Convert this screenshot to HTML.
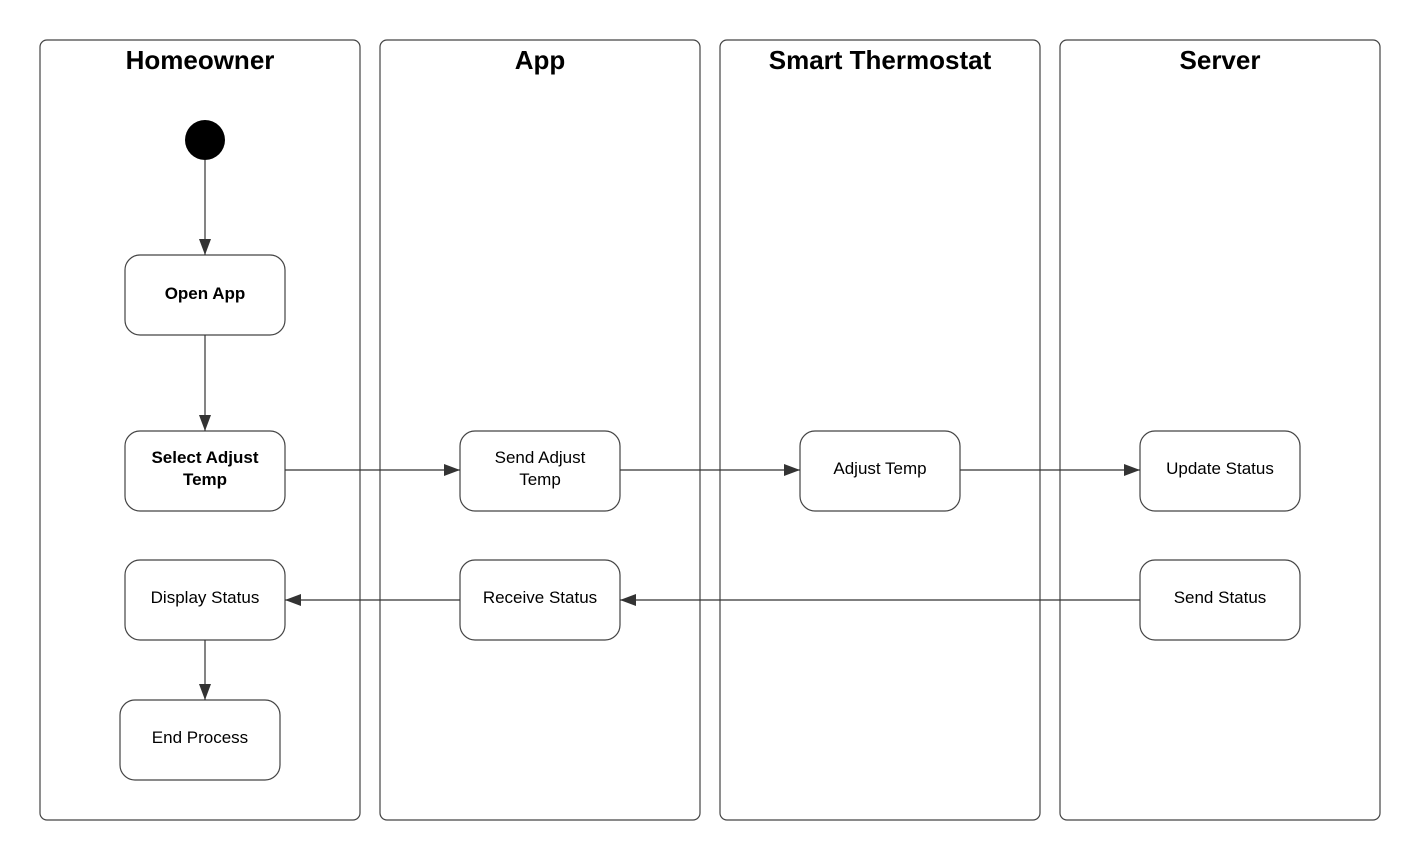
<!DOCTYPE html>
<html><head><style>body{margin:0;background:#fff}svg{display:block}</style></head><body>
<svg width="1420" height="860" viewBox="0 0 1420 860" xmlns="http://www.w3.org/2000/svg" font-family="Liberation Sans, Arial, sans-serif">
<defs><marker id="a" markerWidth="16" markerHeight="12" refX="16" refY="6" orient="auto" markerUnits="userSpaceOnUse"><path d="M0,0 L16,6 L0,12 z" fill="#333"/></marker></defs>
<g fill="none" stroke="#444" stroke-width="1.2">
<rect x="40" y="40" width="320" height="780" rx="7"/>
<rect x="380" y="40" width="320" height="780" rx="7"/>
<rect x="720" y="40" width="320" height="780" rx="7"/>
<rect x="1060" y="40" width="320" height="780" rx="7"/>
<rect x="125" y="255" width="160" height="80" rx="15"/>
<rect x="125" y="431" width="160" height="80" rx="15"/>
<rect x="460" y="431" width="160" height="80" rx="15"/>
<rect x="800" y="431" width="160" height="80" rx="15"/>
<rect x="1140" y="431" width="160" height="80" rx="15"/>
<rect x="125" y="560" width="160" height="80" rx="15"/>
<rect x="460" y="560" width="160" height="80" rx="15"/>
<rect x="1140" y="560" width="160" height="80" rx="15"/>
<rect x="120" y="700" width="160" height="80" rx="15"/>
</g>
<circle cx="205" cy="140" r="20" fill="#000"/>
<g stroke="#333" stroke-width="1.2" marker-end="url(#a)">
<line x1="205" y1="160" x2="205" y2="255"/>
<line x1="205" y1="335" x2="205" y2="431"/>
<line x1="285" y1="470" x2="460" y2="470"/>
<line x1="620" y1="470" x2="800" y2="470"/>
<line x1="960" y1="470" x2="1140" y2="470"/>
<line x1="1140" y1="600" x2="620" y2="600"/>
<line x1="460" y1="600" x2="285" y2="600"/>
<line x1="205" y1="640" x2="205" y2="700"/>
</g>
<g font-weight="bold" font-size="26" text-anchor="middle" fill="#000">
<text x="200" y="69">Homeowner</text>
<text x="540" y="69">App</text>
<text x="880" y="69">Smart Thermostat</text>
<text x="1220" y="69">Server</text>
</g>
<g font-size="17" text-anchor="middle" fill="#000">
<text x="205" y="299" font-weight="bold">Open App</text>
<text x="205" y="463" font-weight="bold">Select Adjust</text>
<text x="205" y="485" font-weight="bold">Temp</text>
<text x="540" y="463">Send Adjust</text>
<text x="540" y="485">Temp</text>
<text x="880" y="474">Adjust Temp</text>
<text x="1220" y="474">Update Status</text>
<text x="205" y="603">Display Status</text>
<text x="540" y="603">Receive Status</text>
<text x="1220" y="603">Send Status</text>
<text x="200" y="743">End Process</text>
</g>
</svg>
</body></html>
